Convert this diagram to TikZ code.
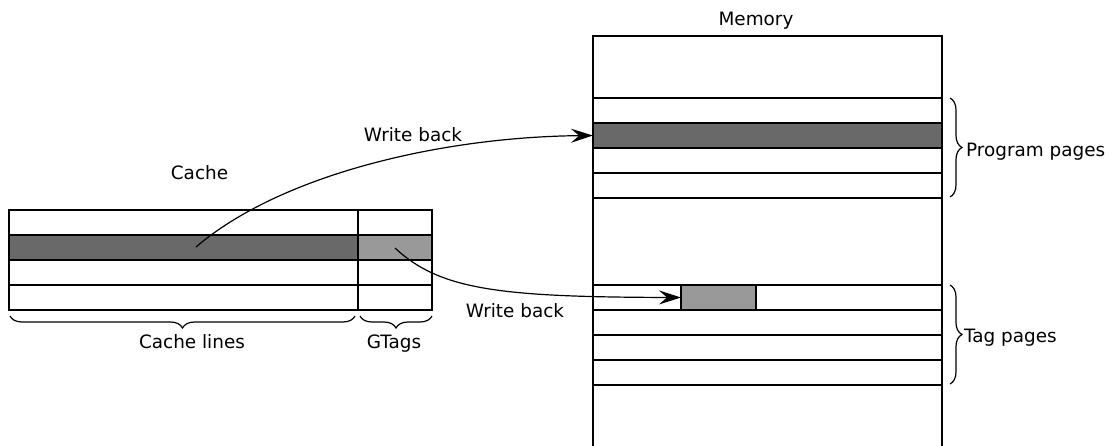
\documentclass[tikz,border=0pt]{standalone}
\usepackage{fontspec}
\setmainfont{DejaVu Sans}
\usetikzlibrary{arrows.meta,decorations.pathreplacing}
\definecolor{lineshade}{HTML}{696969}
\definecolor{tagshade}{HTML}{999999}
\tikzset{
  cell/.style={draw,line width=1.2pt,inner sep=0pt,outer sep=0pt,minimum height=25pt,anchor=north west},
  cacheline/.style={cell,minimum width=349pt},
  gtag/.style={cell,minimum width=74pt},
  page/.style={cell,minimum width=349pt},
  lbl/.style={font=\fontsize{18.4}{22}\selectfont,inner sep=0pt,anchor=base},
  wb/.style={line width=1.2pt,-{Stealth[length=22pt,width=14pt,inset=8pt]}},
  brc/.style={decorate,decoration={brace,amplitude=12pt},line width=1.2pt},
}
\begin{document}
\begin{tikzpicture}[x=1pt,y=-1pt]
\useasboundingbox (0,0) rectangle (1114,445);

% cache: four lines, each with its tag cell
\node[cacheline] (c0) at (9,210) {};
\node[cacheline,fill=lineshade] (c1) at (9,235) {};
\node[cacheline] (c2) at (9,260) {};
\node[cacheline] (c3) at (9,285) {};
\node[gtag] (g0) at (358,210) {};
\node[gtag,fill=tagshade] (g1) at (358,235) {};
\node[gtag] (g2) at (358,260) {};
\node[gtag] (g3) at (358,285) {};

\node[lbl] (cachetitle) at (199.5,179) {Cache};
\draw[brc] (355,316) -- (10,316);
\draw[brc] (432,316) -- (360,316);
\node[lbl] (linestext) at (192,348) {Cache lines};
\node[lbl] (gtagstext) at (394,348) {GTags};

% memory
\begin{scope}
  \clip (0,0) rectangle (1114,445);
  \draw[line width=1.2pt] (593,460) -- (593,36) -- (942,36) -- (942,460);
\end{scope}
\node[lbl] (memtitle) at (756,25) {Memory};

\node[page] (p0) at (593,98) {};
\node[page,fill=lineshade] (p1) at (593,123) {};
\node[page] (p2) at (593,148) {};
\node[page] (p3) at (593,173) {};

\node[page] (t0) at (593,285) {};
\node[page] (t1) at (593,310) {};
\node[page] (t2) at (593,335) {};
\node[page] (t3) at (593,360) {};
\node[cell,minimum width=75pt,fill=tagshade] (tagbox) at (681,285) {};

\draw[brc] (950,98) -- (950,197);
\node[lbl,anchor=base west] (progtext) at (966,156) {Program pages};
\draw[brc] (950,285) -- (950,384);
\node[lbl,anchor=base west] (tagtext) at (964,342) {Tag pages};

% write-back paths
\coordinate (src1) at (196,247);
\coordinate (src2) at (395,248);
\draw[wb] (src1) .. controls (280,175) and (440,137) .. (p1.west);
\draw[wb] (src2) .. controls (440,290) and (500,297) .. (tagbox.west);
\node[lbl] (wb1) at (413,141) {Write back};
\node[lbl] (wb2) at (515,317) {Write back};
\end{tikzpicture}
\end{document}
